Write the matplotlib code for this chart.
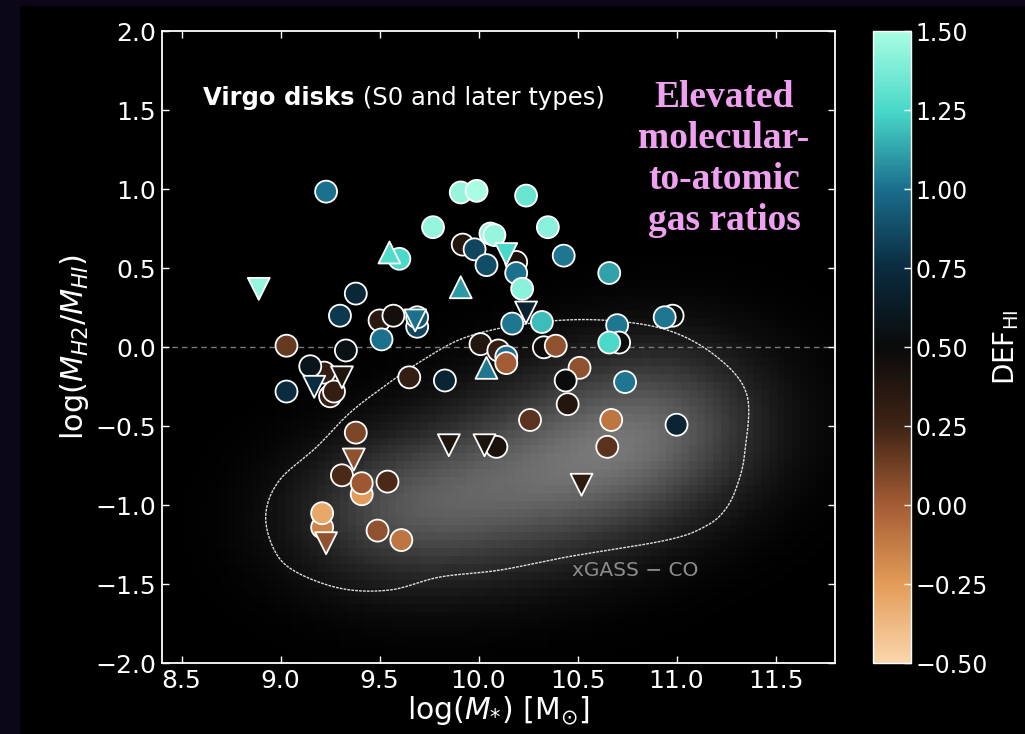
import numpy as np
import matplotlib
matplotlib.use("Agg")
import matplotlib.pyplot as plt
from matplotlib.colors import LinearSegmentedColormap
from matplotlib.patches import Rectangle

# ---- Virgo disks: detections (circles) ----
circ_mstar = [9.23, 9.77, 9.60, 9.38, 9.30, 9.50, 9.57, 9.69, 9.69, 9.51,
              9.03, 9.22, 9.25, 9.27, 9.15, 9.33, 9.03, 9.65, 9.83, 9.91,
              9.99, 10.24, 10.35, 10.06, 10.08, 9.92, 9.98, 10.04, 10.19, 10.19,
              10.22, 10.43, 10.66, 10.17, 10.32, 10.70, 10.98, 10.94, 10.71, 10.66,
              10.01, 10.10, 10.14, 10.14, 10.33, 10.39, 10.51, 10.44, 10.74, 10.45,
              10.26, 10.67, 11.00, 10.65, 10.09, 9.38, 9.31, 9.41, 9.41, 9.54,
              9.21, 9.21, 9.49, 9.61]
circ_ratio = [0.985, 0.76, 0.56, 0.34, 0.20, 0.17, 0.20, 0.13, 0.19, 0.05,
              0.01, -0.16, -0.31, -0.28, -0.12, -0.02, -0.28, -0.19, -0.21, 0.98,
              0.99, 0.96, 0.76, 0.72, 0.71, 0.65, 0.62, 0.52, 0.54, 0.47,
              0.37, 0.58, 0.47, 0.15, 0.16, 0.14, 0.20, 0.19, 0.03, 0.03,
              0.02, -0.02, -0.06, -0.10, 0.00, 0.01, -0.13, -0.21, -0.22, -0.36,
              -0.46, -0.46, -0.49, -0.63, -0.63, -0.54, -0.81, -0.93, -0.86, -0.85,
              -1.14, -1.05, -1.16, -1.22]
circ_def = [1.00, 1.45, 1.25, 0.72, 0.80, 0.35, 0.45, 0.85, 0.90, 1.00,
            0.15, 0.30, 0.28, 0.30, 0.58, 0.55, 0.75, 0.30, 0.70, 1.45,
            1.50, 1.33, 1.42, 1.45, 1.45, 0.38, 0.85, 0.88, 0.42, 1.00,
            1.42, 1.02, 1.12, 1.02, 1.18, 1.02, 0.50, 1.02, 0.50, 1.25,
            0.38, 0.30, 1.00, 0.00, 0.48, 0.05, 0.05, 0.50, 1.02, 0.38,
            0.18, -0.10, 0.70, 0.18, 0.42, 0.10, 0.22, -0.25, 0.02, 0.22,
            -0.15, -0.30, 0.05, -0.10]

# ---- upper limits in H2 (down triangles) ----
dn_mstar = [8.89, 9.68, 10.14, 10.24, 9.17, 9.31, 9.85, 10.03, 9.37, 9.23, 10.52]
dn_ratio = [0.37, 0.17, 0.59, 0.22, -0.25, -0.19, -0.62, -0.62, -0.71, -1.24, -0.87]
dn_def = [1.45, 1.00, 1.25, 0.68, 0.75, 0.40, 0.40, 0.40, 0.05, 0.05, 0.33]

# ---- lower limits (up triangles) ----
up_mstar = [9.55, 9.91, 10.04]
up_ratio = [0.60, 0.38, -0.13]
up_def = [1.28, 1.10, 1.02]

# ---- xGASS-CO outline (log M*, log MH2/MHI) ----
xgass_mstar = [8.926, 8.961, 9.062, 9.30, 9.552, 9.804, 10.108, 10.446, 10.951,
               11.15, 11.25, 11.31, 11.345, 11.355, 11.204, 10.951, 10.613, 10.274,
               9.941, 9.704, 9.527, 9.350, 9.183, 8.996]
xgass_ratio = [-1.049, -1.264, -1.410, -1.525, -1.536, -1.454, -1.410, -1.327, -1.220,
               -1.13, -1.02, -0.86, -0.66, -0.30, -0.061, 0.110, 0.173, 0.154,
               0.066, -0.092, -0.244, -0.415, -0.630, -0.839]

# xGASS-CO density components: centre x, centre y, sigma x, sigma y, correlation, weight
xgass_comp_x = [10.45, 9.60, 10.95]
xgass_comp_y = [-0.75, -1.02, -0.50]
xgass_comp_sx = [0.52, 0.38, 0.36]
xgass_comp_sy = [0.42, 0.32, 0.36]
xgass_comp_rho = [0.30, 0.10, 0.0]
xgass_comp_w = [1.0, 0.60, 0.40]

cbar_ticks = [1.50, 1.25, 1.00, 0.75, 0.50, 0.25, 0.00, -0.25, -0.50]
x_ticks = [8.5, 9.0, 9.5, 10.0, 10.5, 11.0, 11.5]
y_ticks = [2.0, 1.5, 1.0, 0.5, 0.0, -0.5, -1.0, -1.5, -2.0]

# copper-to-teal diverging colour map
def_cmap = LinearSegmentedColormap.from_list(
    "def_hi",
    [(0.000, "#fad6ac"), (0.125, "#e39b58"), (0.250, "#a45c34"),
     (0.375, "#3e2315"), (0.500, "#0a0a0a"), (0.625, "#0a2a3e"),
     (0.750, "#1a6d8c"), (0.875, "#48d8c8"), (1.000, "#a8fde2")])


def closed_spline(xs, ys, n=24):
    pts = np.column_stack([xs, ys])
    m = len(pts)
    t = np.linspace(0, 1, n, endpoint=False)[:, None]
    segs = []
    for i in range(m):
        p0, p1, p2, p3 = pts[i - 1], pts[i], pts[(i + 1) % m], pts[(i + 2) % m]
        segs.append(0.5 * (2 * p1 + (-p0 + p2) * t
                           + (2 * p0 - 5 * p1 + 4 * p2 - p3) * t ** 2
                           + (-p0 + 3 * p1 - 3 * p2 + p3) * t ** 3))
    segs.append(segs[0][:1])
    out = np.vstack(segs)
    return out[:, 0], out[:, 1]


fig = plt.figure(figsize=(10.25, 7.34), dpi=100, facecolor="#0b0719")
fig.patches.append(Rectangle((20 / 1025, 0), 1, (734 - 6) / 734,
                             transform=fig.transFigure, facecolor="black",
                             edgecolor="none", zorder=-10))

ax = fig.add_axes([0.1578, 0.0963, 0.8146 - 0.1578, 0.9574 - 0.0963])
ax.set_facecolor("black")
xlim = (8.4, 11.8)
ylim = (-2.0, 2.0)

# density map of the xGASS-CO sample
gx = np.arange(xlim[0], xlim[1] + 1e-9, 0.04)
gy = np.arange(ylim[0], ylim[1] + 1e-9, 0.05)
GX, GY = np.meshgrid(gx, gy)
dens = np.zeros_like(GX)
for cx, cy, sx, sy, r, w in zip(xgass_comp_x, xgass_comp_y, xgass_comp_sx,
                                xgass_comp_sy, xgass_comp_rho, xgass_comp_w):
    u = (GX - cx) / sx
    v = (GY - cy) / sy
    dens += w * np.exp(-(u * u - 2 * r * u * v + v * v) / (2 * (1 - r * r)))
dens /= dens.max()
ax.imshow(dens * 0.47, extent=(xlim[0] - 0.02, xlim[1] + 0.02, ylim[0] - 0.025, ylim[1] + 0.025),
          origin="lower", aspect="auto", cmap="gray", vmin=0, vmax=1,
          interpolation="nearest", zorder=0)

cx_line, cy_line = closed_spline(xgass_mstar, xgass_ratio)
ax.plot(cx_line, cy_line, color="white", lw=1.0, alpha=0.85,
        linestyle=(0, (2, 0.8)), zorder=1)
ax.text(10.79, -1.41, "xGASS − CO", color="#8c8c8c", fontsize=14.5,
        ha="center", va="center", zorder=1)

ax.axhline(0, color="#7a7a7a", lw=1.0, ls=(0, (4, 3)), zorder=1)

kw = dict(cmap=def_cmap, vmin=-0.5, vmax=1.5, s=250, edgecolors="white",
          linewidths=1.3, zorder=3)
sc = ax.scatter(circ_mstar, circ_ratio, c=circ_def, marker="o", **kw)
ax.scatter(dn_mstar, dn_ratio, c=dn_def, marker="v", **kw)
ax.scatter(up_mstar, up_ratio, c=up_def, marker="^", **kw)

ax.set_xlim(*xlim)
ax.set_ylim(*ylim)
ax.set_xticks(x_ticks)
ax.set_yticks(y_ticks)
ax.tick_params(axis="both", which="both", direction="in", top=True, right=True,
               colors="white", labelcolor="white", labelsize=18, length=5,
               width=1.0, pad=4)
for sp in ax.spines.values():
    sp.set_color("white")
    sp.set_linewidth(1.3)

ax.set_xlabel(r"log($M_{*}$) [M$_{\odot}$]", color="white", fontsize=21.5, labelpad=1)
ax.set_ylabel(r"log($M_{H2}/M_{HI}$)", color="white", fontsize=22, labelpad=3)

t1 = ax.text(8.61, 1.58, "Virgo disks", color="white", fontsize=17.5,
             fontweight="bold", ha="left", va="center", zorder=4)
ax.annotate(" (S0 and later types)", xy=(1, 0.5), xycoords=t1,
            color="white", fontsize=17.5, ha="left", va="center", zorder=4)

ax.text(11.24, 1.19, "Elevated\nmolecular-\nto-atomic\ngas ratios",
        color="#f0a0f0", fontsize=27, fontweight="bold",
        family="Liberation Serif", ha="center", va="center",
        linespacing=1.22, zorder=4)

cax = fig.add_axes([873 / 1025, 0.0963, 38 / 1025, 0.9574 - 0.0963])
cb = fig.colorbar(sc, cax=cax, ticks=cbar_ticks)
cb.outline.set_edgecolor("white")
cb.outline.set_linewidth(1.0)
cax.tick_params(colors="white", labelcolor="white", labelsize=17,
                length=5, width=1.0, direction="in")
cb.set_label(r"DEF$_{\rm HI}$", color="white", fontsize=20, labelpad=2)

fig.savefig("out.png", dpi=100, facecolor=fig.get_facecolor())
